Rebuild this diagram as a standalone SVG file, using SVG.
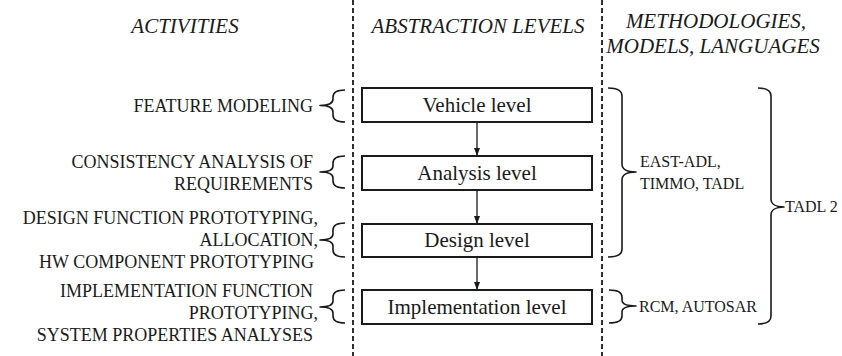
<svg xmlns="http://www.w3.org/2000/svg" width="842" height="356" viewBox="0 0 842 356" font-family="'Liberation Serif', Tinos, 'DejaVu Serif', 'Noto Serif', 'Times New Roman', Times, serif">
  <defs>
    <marker id="arrow" viewBox="0 0 8 8" refX="8" refY="4" markerWidth="8" markerHeight="8" markerUnits="userSpaceOnUse" orient="auto">
      <path d="M0,1 L8,4 L0,7 Z" fill="#1a1a1a"/>
    </marker>
    <style>
      text { font-family: 'Liberation Serif', Tinos, 'DejaVu Serif', 'Noto Serif', 'Times New Roman', Times, serif; fill: #1a1a1a; }
      .head { font-size: 21px; font-style: italic; }
      .lvl { font-size: 21px; text-anchor: middle; }
      .act { font-size: 18px; text-anchor: end; }
      .meth { font-size: 16px; }
      .box { fill: #ffffff; stroke: #1a1a1a; stroke-width: 2; }
      .sep { stroke: #1a1a1a; stroke-width: 1.8; stroke-dasharray: 5 3; fill: none; }
      .brace { fill: none; stroke: #1a1a1a; stroke-width: 1.6; stroke-linejoin: round; }
      .flow { stroke: #1a1a1a; stroke-width: 1.3; fill: none; }
    </style>
  </defs>

  <rect width="842" height="356" fill="#ffffff"/>

  <!-- column separators -->
  <line class="sep" x1="353" y1="0" x2="353" y2="356"/>
  <line class="sep" x1="602" y1="0" x2="602" y2="356"/>

  <!-- column headings -->
  <g id="headings">
    <text class="head" x="185" y="33" text-anchor="middle">ACTIVITIES</text>
    <text class="head" x="478" y="33" text-anchor="middle">ABSTRACTION LEVELS</text>
    <text class="head" x="716" y="28" text-anchor="middle">METHODOLOGIES,</text>
    <text class="head" x="713" y="53" text-anchor="middle">MODELS, LANGUAGES</text>
  </g>

  <!-- abstraction levels -->
  <g id="vehicle-level">
    <rect class="box" x="362" y="88" width="230" height="34"/>
    <text class="lvl" x="477" y="112">Vehicle level</text>
  </g>
  <g id="analysis-level">
    <rect class="box" x="362" y="156" width="230" height="34"/>
    <text class="lvl" x="477" y="180">Analysis level</text>
  </g>
  <g id="design-level">
    <rect class="box" x="362" y="224" width="230" height="33"/>
    <text class="lvl" x="477" y="247">Design level</text>
  </g>
  <g id="implementation-level">
    <rect class="box" x="362" y="290" width="230" height="34"/>
    <text class="lvl" x="477" y="314">Implementation level</text>
  </g>

  <g id="connectors">
    <line class="flow" x1="477" y1="122" x2="477" y2="156" marker-end="url(#arrow)"/>
    <line class="flow" x1="477" y1="190" x2="477" y2="224" marker-end="url(#arrow)"/>
    <line class="flow" x1="477" y1="257" x2="477" y2="290" marker-end="url(#arrow)"/>
  </g>

  <!-- activities -->
  <g id="act-feature">
    <text class="act" x="313" y="112">FEATURE MODELING</text>
    <path class="brace" d="M345,90 C338,90 333,92 333,97 L333,99 C333,103 328,105.5 320,105.5 C328,105.5 333,108 333,112 L333,115 C333,120 338,122 345,122"/>
  </g>
  <g id="act-consistency">
    <text class="act" x="313" y="168">CONSISTENCY ANALYSIS OF</text>
    <text class="act" x="313" y="190">REQUIREMENTS</text>
    <path class="brace" d="M345,156 C338,156 333,158 333,163 L333,166 C333,170 328,172 320,172 C328,172 333,174 333,178 L333,181 C333,186 338,188 345,188"/>
  </g>
  <g id="act-design">
    <text class="act" x="318" y="224">DESIGN FUNCTION PROTOTYPING,</text>
    <text class="act" x="318" y="246">ALLOCATION,</text>
    <text class="act" x="314" y="268">HW COMPONENT PROTOTYPING</text>
    <path class="brace" d="M345,223 C338,223 333,225 333,230 L333,234 C333,238 328,240 320,240 C328,240 333,242 333,246 L333,250 C333,255 338,257 345,257"/>
  </g>
  <g id="act-implementation">
    <text class="act" x="313" y="297">IMPLEMENTATION FUNCTION</text>
    <text class="act" x="318" y="319">PROTOTYPING,</text>
    <text class="act" x="313" y="341">SYSTEM PROPERTIES ANALYSES</text>
    <path class="brace" d="M345,290 C338,290 333,292 333,297 L333,301 C333,305 328,307 320,307 C328,307 333,309 333,313 L333,316 C333,321 338,323 345,323"/>
  </g>

  <!-- methodologies -->
  <g id="meth-east-adl">
    <path class="brace" d="M608,88 C616,88 622,90 622,96 L622,164 C622,169 627,172 636,172 C627,172 622,175 622,180 L622,249 C622,255 616,257 608,257"/>
    <text class="meth" x="640" y="167">EAST-ADL,</text>
    <text class="meth" x="640" y="189">TIMMO, TADL</text>
  </g>
  <g id="meth-rcm">
    <path class="brace" d="M609,290 C616,290 622,292 622,297 L622,300 C622,304 627,306 636,306 C627,306 622,308 622,312 L622,316 C622,321 616,323 609,323"/>
    <text class="meth" x="639" y="312">RCM, AUTOSAR</text>
  </g>
  <g id="meth-tadl2">
    <path class="brace" d="M758,88 C765,88 771,90 771,96 L771,199 C771,204 776,207 784,207 C776,207 771,210 771,215 L771,316 C771,322 765,324 758,324"/>
    <text class="meth" x="785" y="212">TADL 2</text>
  </g>
</svg>
